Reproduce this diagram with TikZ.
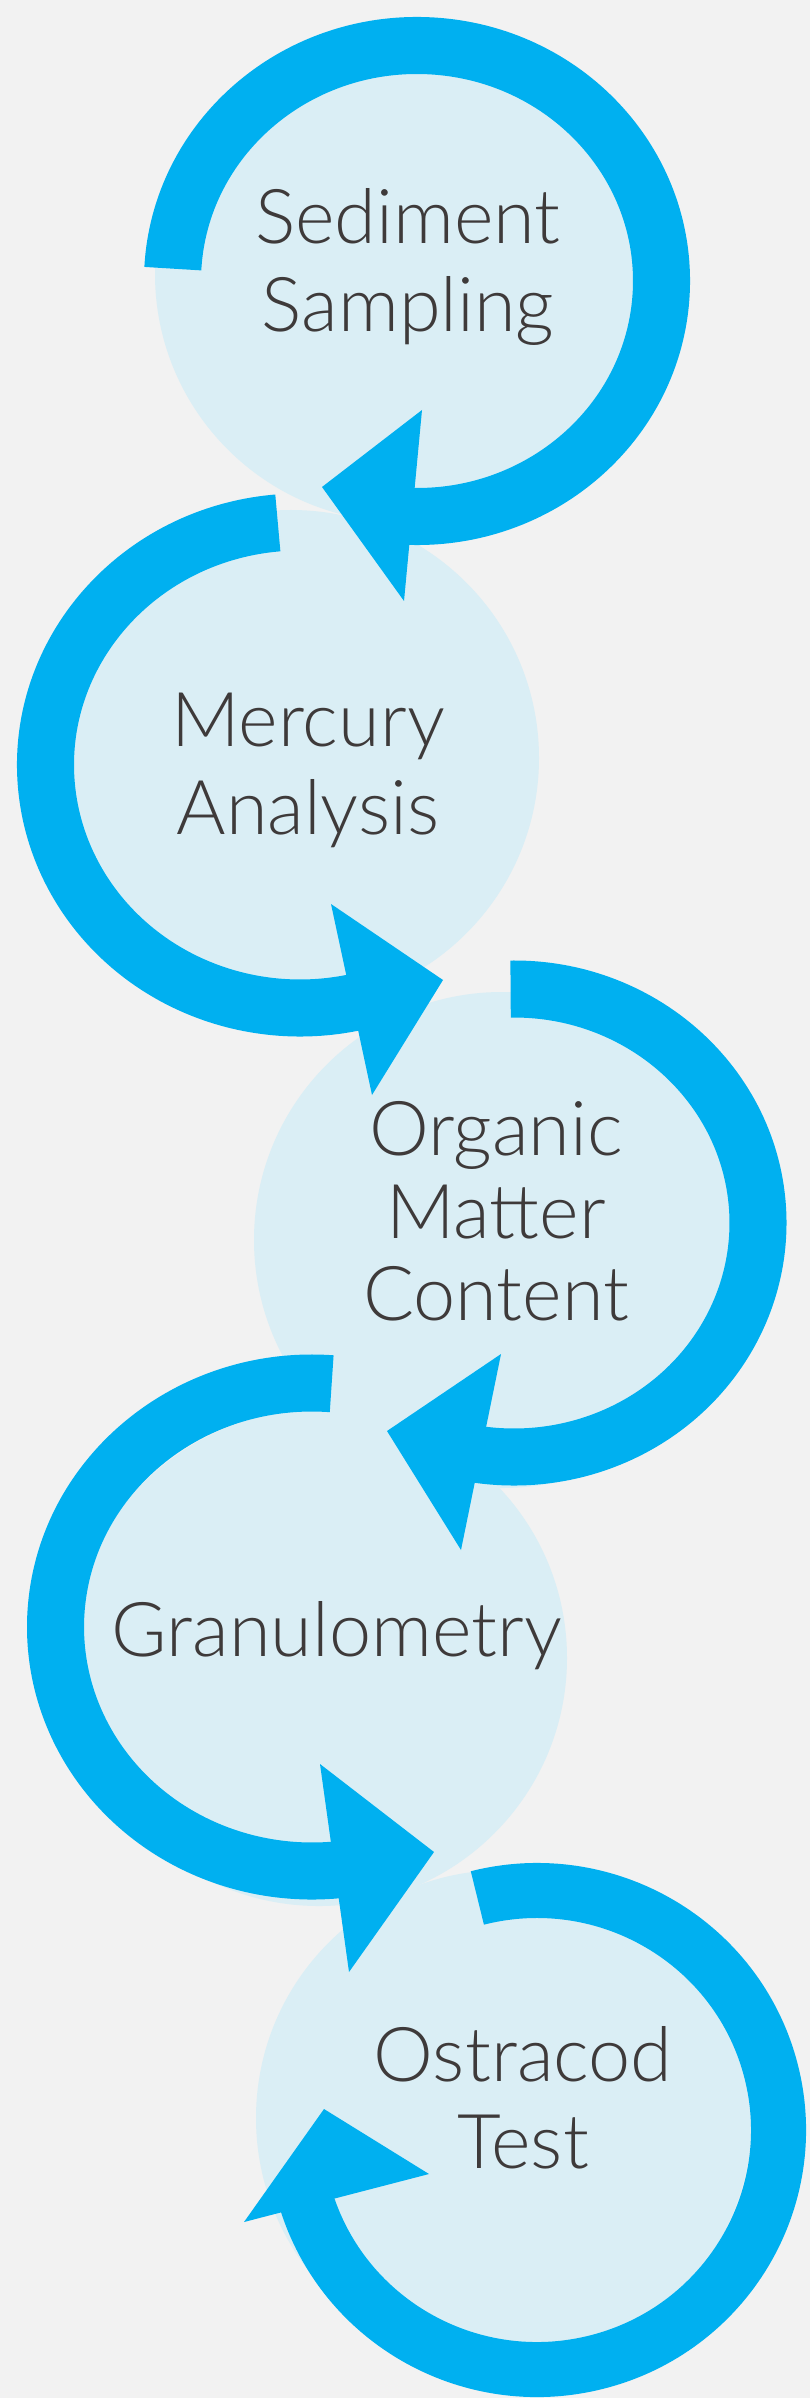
\documentclass[tikz,border=0pt]{standalone}
\usepackage{fontspec}
\setmainfont{Lato Light}
\usepackage{tikz}

\definecolor{paper}{RGB}{242,242,242}
\definecolor{pale}{RGB}{218,238,245}
\definecolor{loop}{RGB}{0,176,240}
\definecolor{ink}{RGB}{62,58,58}

\tikzset{
  disc/.style={fill=pale},
  ring/.style={draw=loop,line width=5.7mm,line cap=butt},
  head/.style={fill=loop},
  step label/.style={text=ink,text width=5cm,align=center,anchor=base,
    font=\fontsize{21.5}{25}\selectfont}
}

\begin{document}
\begin{tikzpicture}[x=0.01cm,y=0.01cm]
  \fill[paper] (0,0) rectangle (810,-2398);
  \useasboundingbox (0,0) rectangle (810,-2398);

  % pale discs behind the loops
  \foreach \cx/\cy in {403/-274,291/-758,502/-1240,319/-1658,504/-2118}
    \fill[disc] (\cx,\cy) circle[radius=248];

  % loop centres
  \coordinate (c1) at (417,-281);
  \coordinate (c2) at (300,-765);
  \coordinate (c3) at (514,-1223);
  \coordinate (c4) at (312,-1627);
  \coordinate (c5) at (537,-2130);

  % the loops
  \draw[ring] (c1) ++(177:244.5 and 235.5)
    arc[start angle=177,end angle=-93,x radius=244.5,y radius=235.5];
  \draw[ring] (c2) ++(95:254.5 and 243)
    arc[start angle=95,end angle=284,x radius=254.5,y radius=243];
  \draw[ring] (c3) ++(90.8:244 and 234)
    arc[start angle=90.8,end angle=-100,x radius=244,y radius=234];
  \draw[ring] (c4) ++(85.6:256.5 and 244)
    arc[start angle=85.6,end angle=277,x radius=256.5,y radius=244];
  \draw[ring,line width=5.5mm] (c5) ++(104.3:241.5 and 239.5)
    arc[start angle=104.3,end angle=-165,x radius=241.5,y radius=239.5];

  % arrow heads
  \fill[head] (422,-410) -- (322,-487) -- (404,-601) -- cycle;
  \fill[head] (331,-904) -- (443,-980) -- (372,-1095) -- cycle;
  \fill[head] (501,-1354) -- (387,-1431) -- (461,-1550) -- cycle;
  \fill[head] (320,-1764) -- (434,-1852) -- (349,-1972) -- cycle;
  \fill[head] (429,-2174) -- (324,-2109) -- (244,-2222) -- cycle;

  % step names
  \node[step label] (sampling) at (408,-244) {Sediment\\Sampling};
  \node[step label] (mercury) at (308,-747) {Mercury\\Analysis};
  \node[step label,font=\fontsize{21.5}{23.6}\selectfont] (organic) at (496,-1155)
    {Organic\\Matter\\Content};
  \node[step label] (grain) at (337,-1656) {Granulometry};
  \node[step label] (ostracod) at (523,-2081) {Ostracod\\Test};
\end{tikzpicture}
\end{document}
